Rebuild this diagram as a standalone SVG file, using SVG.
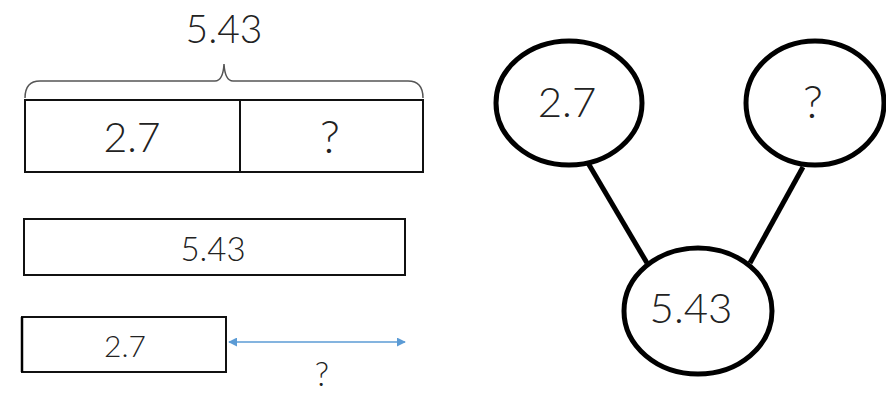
<svg xmlns="http://www.w3.org/2000/svg" width="886" height="396" viewBox="0 0 886 396">
<defs>
<style>
.t{font-family:Lato,"Liberation Sans",sans-serif;font-weight:300;fill:#222;text-anchor:middle}
.box{fill:#fff;stroke:#111;stroke-width:2}
.ell{fill:#fff;stroke:#000;stroke-width:5}
.link{stroke:#000;stroke-width:5;fill:none}
</style>
<marker id="ah" viewBox="0 0 10 10" refX="9" refY="5" markerWidth="6.5" markerHeight="6" orient="auto-start-reverse">
<path d="M0,0 L10,5 L0,10 z" fill="#5b9bd5"/>
</marker>
</defs>
<rect width="886" height="396" fill="#fff"/>
<g id="tape1">
<path d="M25,98 Q25,81 40,81 L215,81 Q223,81 224,64 Q225,81 233,81 L408,81 Q423,81 423,98" fill="none" stroke="#555" stroke-width="1.5"/>
<text class="t" x="224" y="43" font-size="39">5.43</text>
<rect class="box" x="25" y="100" width="398" height="72"/>
<line x1="240" y1="100" x2="240" y2="173" stroke="#111" stroke-width="2"/>
<text class="t" x="132" y="152" font-size="41">2.7</text>
<text class="t" x="330" y="153" font-size="46">?</text>
</g>
<g id="tape2">
<rect class="box" x="24" y="219" width="381" height="56" stroke-width="1.5"/>
<text class="t" x="213" y="261" font-size="33">5.43</text>
</g>
<g id="tape3">
<rect class="box" x="22" y="317" width="204" height="55" stroke-width="1.5"/>
<line x1="22" y1="317" x2="22" y2="372" stroke="#000" stroke-width="2.5"/>
<text class="t" x="125" y="357" font-size="30">2.7</text>
</g>
<g id="connectors">
<line x1="229" y1="342" x2="405" y2="342" stroke="#5b9bd5" stroke-width="1.5" marker-start="url(#ah)" marker-end="url(#ah)"/>
<line class="link" x1="588" y1="163" x2="647" y2="263"/>
<line class="link" x1="803" y1="167" x2="750" y2="263"/>
</g>
<text class="t" x="322" y="386" font-size="33">?</text>
<g id="n27">
<ellipse class="ell" cx="569" cy="103" rx="73" ry="62"/>
<text class="t" x="567" y="117" font-size="42">2.7</text>
</g>
<g id="nq">
<ellipse class="ell" cx="815" cy="103" rx="69" ry="62"/>
<text class="t" x="813" y="118" font-size="46">?</text>
</g>
<g id="n543">
<ellipse class="ell" cx="698" cy="311" rx="74" ry="63"/>
<text class="t" x="691" y="323" font-size="42">5.43</text>
</g>
</svg>
